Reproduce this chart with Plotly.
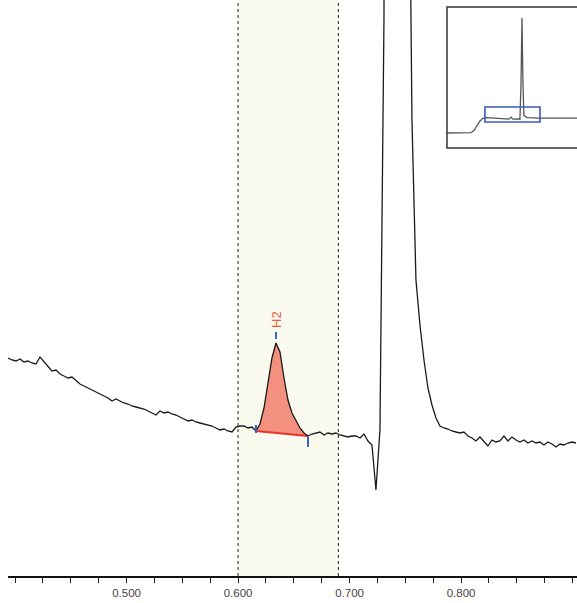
import numpy as np
import plotly.graph_objects as go

# ---------------- data ----------------
# detector signal (arbitrary units) sampled every DT minutes starting at T0
T0 = 0.3937
DT = 0.003587
signal = [
    218, 216, 215, 217, 214, 215, 213, 212, 219, 214,
    210, 205, 206, 202, 200, 198, 199, 195, 192, 190,
    188, 186, 184, 182, 180, 178, 175, 177, 175, 173,
    172, 170, 169, 168, 167, 165, 163, 161, 165, 163,
    164, 162, 161, 159, 157, 155, 156, 154, 153, 152,
    151, 150, 148, 146, 147, 145, 144, 149, 150, 150,
    148, 149, 145, 152, 168, 193, 218, 233, 224, 198,
    176, 163, 155, 148, 143, 140, 142, 143, 144, 141,
    143, 142, 143, 141, 140, 139, 140, 140, 138, 142,
    135, 131, 86, 146, 556, 2000, 3400, 4000, 3300, 1800,
    876, 456, 296, 251, 216, 188, 171, 158, 150, 148,
    147, 145, 144, 143, 144, 140, 138, 135, 139, 134,
    130, 136, 134, 135, 140, 135, 139, 136, 134, 136,
    133, 135, 133, 134, 131, 134, 132, 129, 132, 131,
    133, 134, 133,
]

# overview chromatogram shown in the inset
overview_time = [0.042, 0.162, 0.264, 0.292, 0.320, 0.348, 0.375, 0.413, 0.487,
                 0.579, 0.616, 0.635, 0.654, 0.700, 0.718, 0.728, 0.737, 0.746,
                 0.755, 0.783, 0.904, 1.089, 1.247]
overview_signal = [-422, -422, -410, -330, -150, 40, 140, 170, 150,
                   120, 110, 190, 110, 120, 100, 1500, 4000, 1500,
                   250, 170, 150, 150, 150]

view_range = [0.3937, 0.904]        # time window shown in main plot
signal_range = [0, 576]
inset_x_range = [0.042, 1.247]
inset_y_range = [-998, 4416]

window = [0.600, 0.690]             # integration window (dashed lines)
peak_name = "H2"
peak_start, peak_end = 0.615, 0.664
tick_values = [0.5, 0.6, 0.7, 0.8]
tick_labels = ["0.500", "0.600", "0.700", "0.800"]

# ---------------- figure ----------------
time = T0 + DT * np.arange(len(signal))
sig = np.array(signal, dtype=float)

fig = go.Figure()

# peak area
mask = (time >= peak_start) & (time <= peak_end)
pt, ps = time[mask], sig[mask]
fig.add_trace(go.Scatter(x=pt, y=ps, mode="lines", fill="toself",
                         fillcolor="rgba(242,135,118,0.92)",
                         line=dict(width=0), hoverinfo="skip", showlegend=False))
# peak baseline
fig.add_trace(go.Scatter(x=[pt[0], pt[-1]], y=[ps[0], ps[-1]], mode="lines",
                         line=dict(color="#E8352A", width=2), showlegend=False))

# chromatogram
fig.add_trace(go.Scatter(x=time, y=sig, mode="lines",
                         line=dict(color="#1a1a1a", width=1.3), showlegend=False))

# blue peak markers
ia = int(np.argmax(ps))
fig.add_trace(go.Scatter(
    x=[pt[ia], pt[ia], None, pt[0], pt[0], None, pt[-1], pt[-1]],
    y=[ps[ia] + 4, ps[ia] + 11, None, ps[0] - 2, ps[0] + 6, None, ps[-1] - 11, ps[-1] - 1],
    mode="lines", line=dict(color="#3A5FCD", width=2), showlegend=False))

fig.add_annotation(x=pt[ia], y=ps[ia] + 24, xref="x", yref="y", text=peak_name,
                   textangle=-90, showarrow=False,
                   font=dict(family="Liberation Sans", size=13, color="#E8603C"))

# inset overview
fig.add_trace(go.Scatter(x=overview_time, y=overview_signal, mode="lines",
                         line=dict(color="#555555", width=1.3),
                         xaxis="x2", yaxis="y2", showlegend=False))

shapes = [
    dict(type="rect", xref="x", yref="paper", x0=window[0], x1=window[1], y0=0, y1=1,
         fillcolor="#FAFAEF", line=dict(width=0), layer="below"),
    dict(type="line", xref="x", yref="paper", x0=window[0], x1=window[0], y0=0, y1=1,
         line=dict(color="#222222", width=1, dash="3px,3px")),
    dict(type="line", xref="x", yref="paper", x0=window[1], x1=window[1], y0=0, y1=1,
         line=dict(color="#222222", width=1, dash="3px,3px")),
    # inset frame
    dict(type="rect", xref="paper", yref="paper", x0=0.7715, x1=1.03, y0=0.743, y1=0.988,
         line=dict(color="#333333", width=1.5), fillcolor="rgba(0,0,0,0)"),
    # zoom window in inset
    dict(type="rect", xref="x2", yref="y2", x0=view_range[0], x1=view_range[1],
         y0=signal_range[0], y1=signal_range[1],
         line=dict(color="#3A55C8", width=1.6), fillcolor="rgba(0,0,0,0)"),
]

fig.update_layout(
    width=577, height=603,
    margin=dict(l=8, r=0, t=0, b=27),
    paper_bgcolor="white", plot_bgcolor="white",
    font=dict(family="Liberation Sans", size=11, color="#444444"),
    shapes=shapes,
    xaxis=dict(range=view_range, domain=[0, 1], showgrid=False, zeroline=False,
               showline=True, linecolor="#111111", linewidth=2,
               ticks="outside", ticklen=5, tickcolor="#222222", tickwidth=1,
               tickmode="array", tickvals=tick_values, ticktext=tick_labels,
               minor=dict(dtick=0.025, tick0=0.5, ticks="outside", ticklen=5,
                          tickcolor="#222222", showgrid=False),
               tickfont=dict(size=11.5, color="#444444")),
    yaxis=dict(range=signal_range, domain=[0, 1], visible=False, fixedrange=True),
    xaxis2=dict(domain=[0.7715, 1.0], range=inset_x_range, anchor="y2",
                visible=False),
    yaxis2=dict(domain=[0.743, 0.988], range=inset_y_range, anchor="x2",
                visible=False),
)

fig.write_html("out.html", config={"displayModeBar": False},
               post_script="document.body.style.margin='0';document.body.style.overflow='hidden';")
